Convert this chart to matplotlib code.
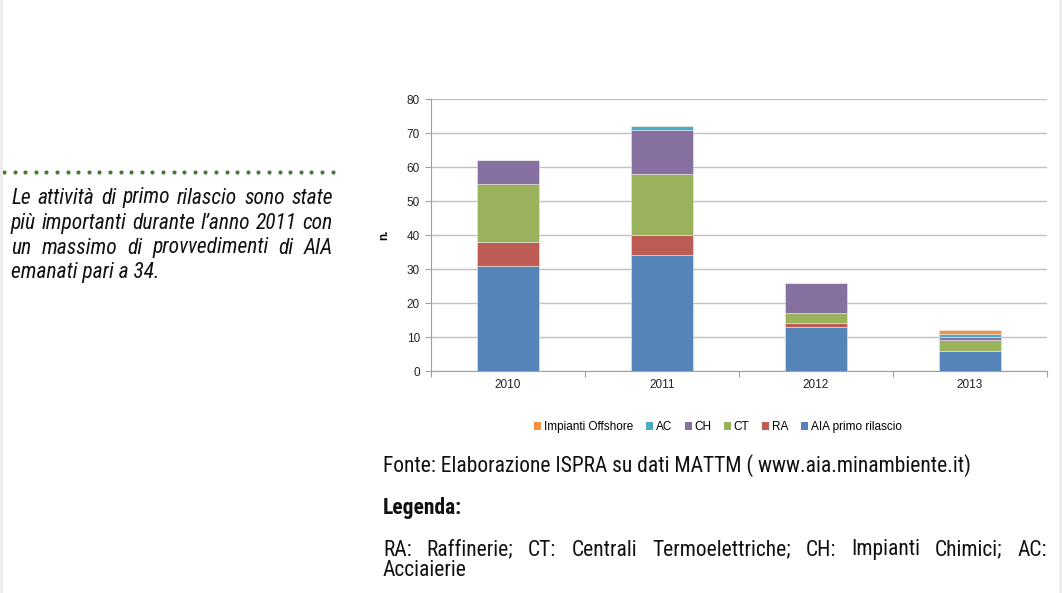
import matplotlib
matplotlib.use("Agg")
import matplotlib.pyplot as plt
from matplotlib.lines import Line2D
from matplotlib.patches import Patch
import numpy as np

# ---- data ----
years = ["2010", "2011", "2012", "2013"]
aia_primo = [31, 34, 13, 6]
ra = [7, 6, 1, 0]
ct = [17, 18, 3, 3]
ch = [7, 13, 9, 1]
ac = [0, 1, 0, 1]
offshore = [0, 0, 0, 1]

series_names = ["AIA primo rilascio", "RA", "CT", "CH", "AC", "Impianti Offshore"]
series_vals = [aia_primo, ra, ct, ch, ac, offshore]
colors = ["#5585b8", "#bd5b55", "#9bb25d", "#8670a0", "#4baac4", "#ee9448"]
yticks = [0, 10, 20, 30, 40, 50, 60, 70, 80]

left_lines = ["Le attività di primo rilascio sono state",
              "più importanti durante l’anno 2011 con",
              "un massimo di provvedimenti di AIA",
              "emanati pari a 34."]
source_text = "Fonte: Elaborazione ISPRA su dati MATTM ( www.aia.minambiente.it)"
legend_title = "Legenda:"
legend_lines = ["RA: Raffinerie; CT: Centrali Termoelettriche; CH: Impianti Chimici; AC:",
                "Acciaierie"]

W, H = 1062, 593
fig = plt.figure(figsize=(W / 100, H / 100), dpi=100)
fig.patch.set_facecolor("white")

NARROW = ["Roboto Condensed", "Archivo Narrow", "DejaVu Sans"]
SANS = ["Liberation Sans", "DejaVu Sans"]
CHART_FS = 8.5

def fx(px):
    return px / W

def fy(py):
    return 1 - py / H

# axes
ax = fig.add_axes([fx(431), fy(371), fx(1047) - fx(431), fy(99) - fy(371)])
x = np.arange(len(years))
bottom = np.zeros(len(years))
for name, vals, c in zip(series_names, series_vals, colors):
    v = np.array(vals, dtype=float)
    ax.bar(x, v, width=0.4, bottom=bottom, color=c, label=name,
           edgecolor="#e8e8e8", linewidth=0.4, zorder=3)
    bottom += v

ax.set_xlim(-0.5, len(years) - 0.5)
ax.set_ylim(0, 80)
ax.set_yticks(yticks)
ax.set_yticklabels([str(t) for t in yticks], fontsize=CHART_FS, family=SANS, color="#222222")
ax.yaxis.grid(True, color="#c0c0c0", linewidth=1.0, zorder=0)
ax.set_axisbelow(True)
ax.set_xticks(np.arange(-0.5, len(years), 1.0))
ax.set_xticklabels([])
ax.set_xticks(x, minor=True)
ax.set_xticklabels(years, minor=True, fontsize=CHART_FS, family=SANS, color="#222222")
ax.tick_params(axis="x", which="major", length=4, color="#a0a0a0", direction="out")
ax.tick_params(axis="x", which="minor", length=0, pad=6)
ax.tick_params(axis="y", length=4, color="#a0a0a0", pad=4)
for s in ["top", "right"]:
    ax.spines[s].set_visible(False)
ax.spines["left"].set_color("#a0a0a0")
ax.spines["bottom"].set_color("#a0a0a0")
ax.set_ylabel("n.", fontsize=CHART_FS, fontweight="bold", family=SANS, labelpad=12)

# legend (reversed order)
handles = [Patch(facecolor=c, edgecolor="none") for c in colors][::-1]
labels = series_names[::-1]
fig.legend(handles, labels, loc="center", bbox_to_anchor=(fx(718), fy(427)),
           ncol=6, frameon=False, prop={"family": SANS, "size": CHART_FS},
           handlelength=0.6, handleheight=0.6, handletextpad=0.2, columnspacing=1.1)

renderer = fig.canvas.get_renderer()

def text_width(s, size, **kw):
    t = fig.text(0, 0, s, fontsize=size, **kw)
    w = t.get_window_extent(renderer).width
    t.remove()
    return w

# fit font size of the source line to its width in the reference
base = 12.0
src_kw = dict(family=NARROW)
fs = base * 607.0 / text_width(source_text, base, **src_kw)
fs = min(fs, 15.5)

lkw = dict(family=NARROW, style="italic")
widest = max(text_width(l, base, **lkw) for l in left_lines[:3])
fs_left = min(fs, base * 318.0 / widest)

def draw_justified(lines, x0, x1, ys, size, **kw):
    for i, (line, yp) in enumerate(zip(lines, ys)):
        words = line.split(" ")
        if i == len(lines) - 1:
            fig.text(fx(x0), fy(yp), line, va="center", ha="left", fontsize=size, **kw)
            continue
        objs = [fig.text(0, fy(yp), w, va="center", ha="left", fontsize=size, **kw)
                for w in words]
        widths = [o.get_window_extent(renderer).width for o in objs]
        gap = (x1 - x0 - sum(widths)) / max(len(words) - 1, 1)
        cur = x0
        for o, wd in zip(objs, widths):
            o.set_x(fx(cur))
            cur += wd + gap

# left commentary
draw_justified(left_lines, 11, 333, [198, 223, 248, 273], fs_left,
               color="#111111", **lkw)

# dotted line
dots_x = np.arange(4, 334, 10.6)
fig.add_artist(Line2D([fx(v) for v in dots_x], [fy(172)] * len(dots_x),
                      linestyle="none", marker="o", markersize=3.0,
                      color="#4a7a3a", markeredgewidth=0))

# source and legend text
fig.text(fx(383), fy(466), source_text, va="center", ha="left",
         fontsize=fs, color="#111111", **src_kw)
fig.text(fx(383), fy(508), legend_title, va="center", ha="left",
         fontsize=fs, fontweight="bold", color="#111111", family=NARROW)
draw_justified(legend_lines, 383, 1047, [550, 570], fs,
               color="#111111", family=NARROW)

# faint page borders
fig.add_artist(Line2D([fx(1), fx(1)], [0, 1], color="#ececec", linewidth=2))
fig.add_artist(Line2D([fx(1060), fx(1060)], [0, 1], color="#ececec", linewidth=2))

fig.savefig("out.png", dpi=100)
